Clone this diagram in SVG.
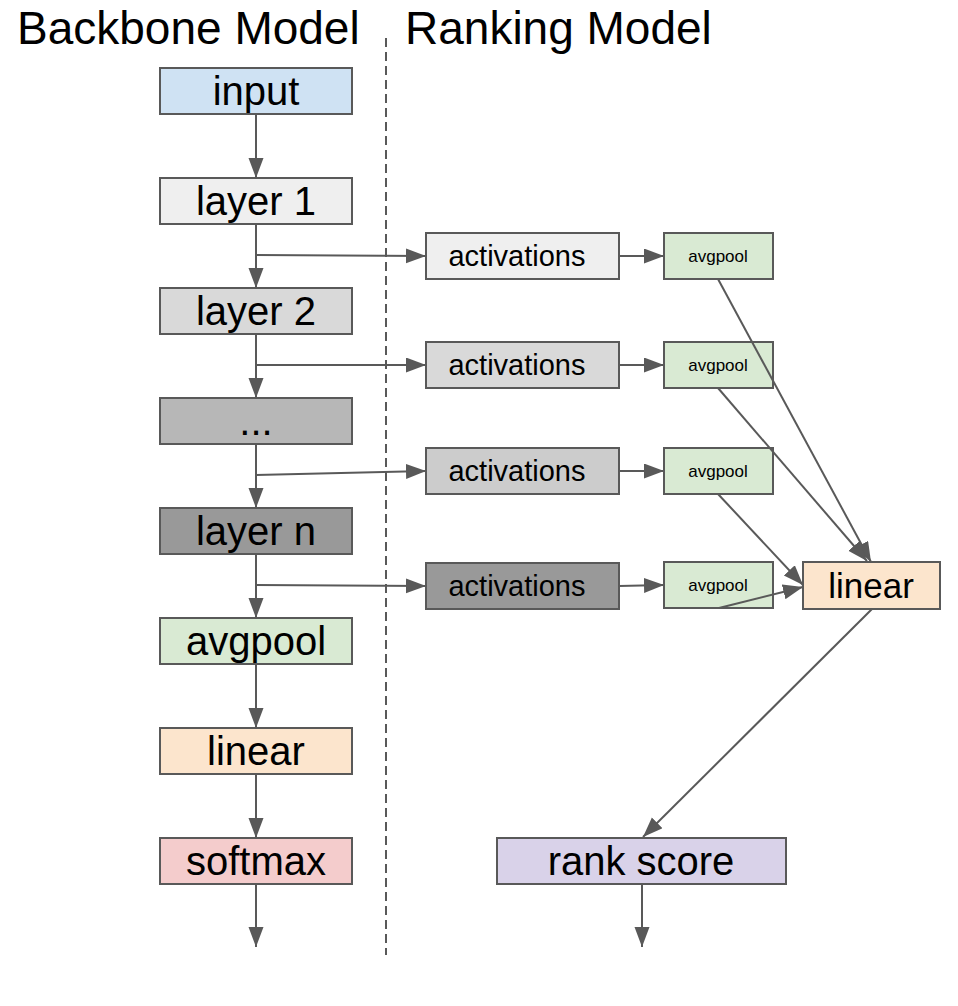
<svg xmlns="http://www.w3.org/2000/svg" width="958" height="1006" viewBox="0 0 958 1006">
<style>
  .box{stroke:#595959;stroke-width:2}
  .t{font-family:"Liberation Sans",Arial,sans-serif;fill:#000;text-anchor:middle}
  .big{font-size:40px}
  .mid{font-size:29px}
  .sm{font-size:17px}
  .title{font-family:"Liberation Sans",Arial,sans-serif;font-size:46px;fill:#000}
  .c{stroke:#595959;stroke-width:2;fill:none;marker-end:url(#ah)}
</style>
<defs>
  <marker id="ah" markerUnits="userSpaceOnUse" markerWidth="21" markerHeight="16" refX="20" refY="7.5" orient="auto">
    <path d="M0,0 L20,7.5 L0,15 z" fill="#595959"/>
  </marker>
</defs>
<rect width="958" height="1006" fill="#fff"/>
<g id="titles">
  <text class="title" x="17" y="44">Backbone Model</text>
  <text class="title" x="405" y="44">Ranking Model</text>
</g>
<g id="divider">
  <line x1="386" y1="38" x2="386" y2="955" stroke="#595959" stroke-width="2" stroke-dasharray="9,5"/>
</g>
<g id="input"><rect class="box" x="160" y="68" width="192" height="46" fill="#cfe2f3"/><text class="t big" x="256" y="105">input</text></g>
<g id="layer1"><rect class="box" x="160" y="178" width="192" height="46" fill="#efefef"/><text class="t big" x="256" y="215">layer 1</text></g>
<g id="layer2"><rect class="box" x="160" y="288" width="192" height="46" fill="#d9d9d9"/><text class="t big" x="256" y="325">layer 2</text></g>
<g id="dots"><rect class="box" x="160" y="398" width="192" height="46" fill="#b7b7b7"/><text class="t big" x="256" y="435">...</text></g>
<g id="layern"><rect class="box" x="160" y="508" width="192" height="46" fill="#999999"/><text class="t big" x="256" y="545">layer n</text></g>
<g id="avgpool"><rect class="box" x="160" y="618" width="192" height="46" fill="#d9ead3"/><text class="t big" x="256" y="655">avgpool</text></g>
<g id="linear"><rect class="box" x="160" y="728" width="192" height="46" fill="#fce5cd"/><text class="t big" x="256" y="765">linear</text></g>
<g id="softmax"><rect class="box" x="160" y="838" width="192" height="46" fill="#f4cccc"/><text class="t big" x="256" y="875">softmax</text></g>
<g id="act1"><rect class="box" x="426" y="233" width="193" height="46" fill="#efefef"/><text class="t mid" x="517" y="266">activations</text></g>
<g id="act2"><rect class="box" x="426" y="342" width="193" height="46" fill="#d9d9d9"/><text class="t mid" x="517" y="375">activations</text></g>
<g id="act3"><rect class="box" x="426" y="448" width="193" height="46" fill="#cccccc"/><text class="t mid" x="517" y="481">activations</text></g>
<g id="act4"><rect class="box" x="426" y="563" width="193" height="46" fill="#999999"/><text class="t mid" x="517" y="596">activations</text></g>
<g id="pool1"><rect class="box" x="664" y="233" width="109" height="46" fill="#d9ead3"/><text class="t sm" x="718" y="262">avgpool</text></g>
<g id="pool2"><rect class="box" x="664" y="342" width="109" height="46" fill="#d9ead3"/><text class="t sm" x="718" y="371">avgpool</text></g>
<g id="pool3"><rect class="box" x="664" y="448" width="109" height="46" fill="#d9ead3"/><text class="t sm" x="718" y="477">avgpool</text></g>
<g id="pool4"><rect class="box" x="664" y="562" width="109" height="46" fill="#d9ead3"/><text class="t sm" x="718" y="591">avgpool</text></g>
<g id="linear2"><rect class="box" x="803" y="562" width="137" height="47" fill="#fce5cd"/><text class="t" style="font-size:35px" x="871" y="598">linear</text></g>
<g id="rankscore"><rect class="box" x="497" y="838" width="289" height="46" fill="#d9d2e9"/><text class="t big" x="641" y="875">rank score</text></g>
<g id="connectors">
  <path class="c" d="M256,114 L256,178"/>
  <path class="c" d="M256,224 L256,288"/>
  <path class="c" d="M256,334 L256,398"/>
  <path class="c" d="M256,444 L256,508"/>
  <path class="c" d="M256,554 L256,618"/>
  <path class="c" d="M256,664 L256,728"/>
  <path class="c" d="M256,774 L256,838"/>
  <path class="c" d="M256,884 L256,947"/>
  <path class="c" d="M256,255 L426,256"/>
  <path class="c" d="M256,365 L426,365"/>
  <path class="c" d="M256,475 L426,471"/>
  <path class="c" d="M256,585 L426,586"/>
  <path class="c" d="M619,256 L664,256"/>
  <path class="c" d="M619,365 L664,365"/>
  <path class="c" d="M619,471 L664,471"/>
  <path class="c" d="M619,586 L664,585"/>
  <path class="c" d="M718,279 L871,562"/>
  <path class="c" d="M718,388 L867,561"/>
  <path class="c" d="M718,494 L803,585"/>
  <path class="c" d="M719,608 L803,587"/>
  <path class="c" d="M872,609 L643,837"/>
  <path class="c" d="M642,884 L642,947"/>
</g>
</svg>
